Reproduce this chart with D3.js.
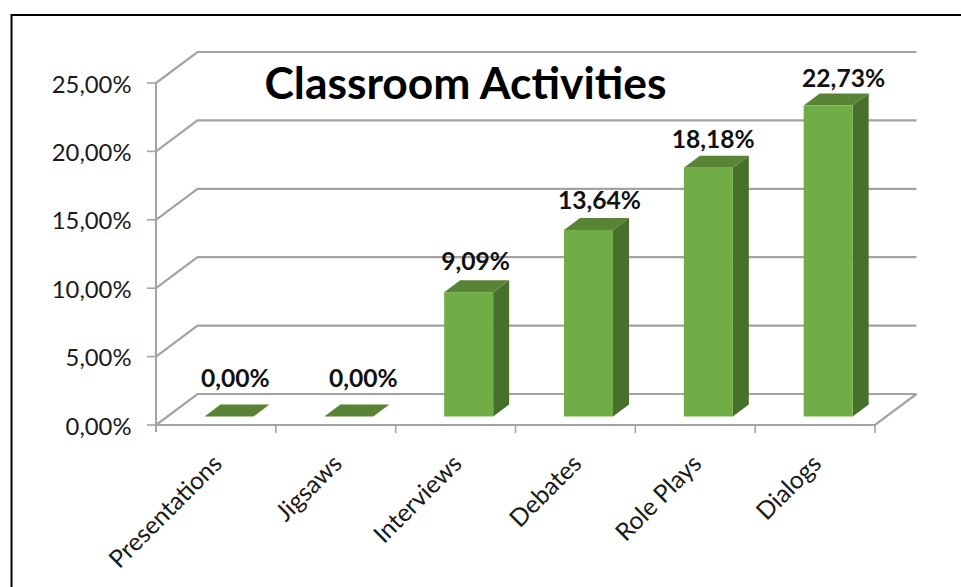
<!DOCTYPE html>
<html><head><meta charset="utf-8">
<script src="https://cdn.jsdelivr.net/npm/d3@7/dist/d3.min.js"></script>
<style>html,body{margin:0;padding:0;background:#fff}svg{display:block}text{font-family:Lato,"Open Sans",sans-serif}</style>
</head><body><svg id="c" width="961" height="587"></svg>
<script>
const categories = ["Presentations","Jigsaws","Interviews","Debates","Role Plays","Dialogs"];
const values = [0, 0, 9.09, 13.64, 18.18, 22.73];
const valueLabels = ["0,00%","0,00%","9,09%","13,64%","18,18%","22,73%"];
const ticks = [0,5,10,15,20,25];
const tickLabels = ["0,00%","5,00%","10,00%","15,00%","20,00%","25,00%"];
const title = "Classroom Activities";

const svg = d3.select("#c");
const x = d3.scaleBand().domain(categories).range([156,875]);
const y = d3.scaleLinear().domain([0,25]).range([425,83]);
// hand-placed data labels in the original: they sit on their own scale, not on the bar tops
const labelY = d3.scaleLinear().domain([0,9.09,22.73]).range([386.5,269.5,87]);
const labelNudge = [19.5,27.5,20,24,18,28.5];
const wallDx = 41.5, wallDy = -31;
const barInset = 48.5, barW = 49, barDx = 16, barDy = -12, barFloor = -8.5;
const grid = "#a3a3a3";
const [x0Axis, x1Axis] = x.range();

// frame
svg.append("path").attr("d","M11.5,587V15H961").attr("fill","none").attr("stroke","#000").attr("stroke-width",2);

// gridlines: side wall + back wall
svg.append("g").selectAll("path").data(ticks).join("path")
  .attr("fill","none").attr("stroke",grid).attr("stroke-width",2.2)
  .attr("d",d=>`M${x0Axis},${y(d)}L${x0Axis+wallDx},${y(d)+wallDy}H${x1Axis+wallDx}`);
// floor front and right edge
svg.append("path").attr("fill","none").attr("stroke",grid).attr("stroke-width",2.2)
  .attr("d",`M${x0Axis},${y(0)}H${x1Axis}L${x1Axis+wallDx},${y(0)+wallDy}`);
// value axis with ticks
svg.append("path").attr("fill","none").attr("stroke",grid).attr("stroke-width",2)
  .attr("d",`M${x0Axis},${y(25)}V${y(0)+7}`);
svg.append("g").selectAll("line").data(ticks).join("line")
  .attr("x1",x0Axis-9).attr("x2",x0Axis).attr("y1",d=>y(d)).attr("y2",d=>y(d))
  .attr("stroke",grid).attr("stroke-width",1.6);
// category ticks
svg.append("g").selectAll("line").data(categories).join("line")
  .attr("x1",c=>x(c)+x.bandwidth()).attr("x2",c=>x(c)+x.bandwidth()).attr("y1",y(0)).attr("y2",y(0)+8)
  .attr("stroke",grid).attr("stroke-width",1.6);

// tick labels
svg.append("g").selectAll("text").data(ticks).join("text")
  .attr("x",131.5).attr("y",d=>y(d)+9.5).attr("text-anchor","end")
  .attr("font-size",23.8).attr("fill","#1a1a1a").text((d,i)=>tickLabels[i]);

// bars
const g = svg.append("g").selectAll("g").data(categories).join("g");
const geom = (c,i)=>{const x0=x(c)+barInset,x1=x0+barW,yb=y(0)+barFloor,yt=y(values[i])+barFloor;return{x0,x1,yb,yt};};
g.append("path").attr("fill","#47702a").attr("d",(c,i)=>{const b=geom(c,i);
  return `M${b.x1},${b.yt}L${b.x1+barDx},${b.yt+barDy}V${b.yb+barDy}L${b.x1},${b.yb}Z`;});
g.append("path").attr("fill","#5a8435").attr("d",(c,i)=>{const b=geom(c,i);
  return `M${b.x0},${b.yt}L${b.x0+barDx},${b.yt+barDy}H${b.x1+barDx}L${b.x1},${b.yt}Z`;});
g.append("rect").attr("fill","#70ad47")
  .attr("x",(c,i)=>geom(c,i).x0).attr("y",(c,i)=>geom(c,i).yt)
  .attr("width",barW).attr("height",(c,i)=>geom(c,i).yb-geom(c,i).yt);

// value labels
g.append("text").attr("text-anchor","middle").attr("font-size",24.6).attr("font-weight",700).attr("fill","#111")
  .attr("x",(c,i)=>x(c)+x.bandwidth()/2+labelNudge[i]).attr("y",(c,i)=>labelY(values[i]))
  .text((c,i)=>valueLabels[i]);

// category labels
svg.append("g").selectAll("text").data(categories).join("text")
  .attr("text-anchor","end").attr("font-size",24.6).attr("fill","#1a1a1a")
  .attr("transform",c=>`translate(${x(c)+x.bandwidth()/2-4.5},${y(0)+28}) rotate(-45)`)
  .attr("dy","0.7em").text(c=>c);

// title
svg.append("text").attr("x",465.5).attr("y",98.5).attr("text-anchor","middle")
  .attr("font-size",44.4).attr("font-weight",700).attr("fill","#000").text(title);
</script></body></html>
